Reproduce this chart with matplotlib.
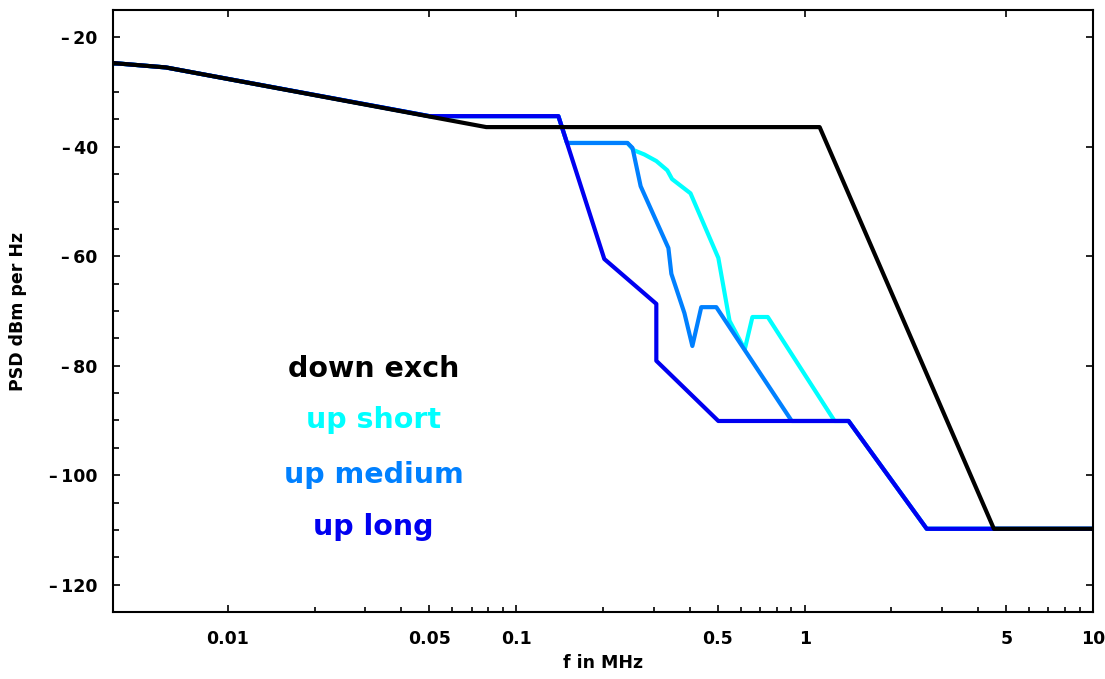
import numpy as np
import matplotlib.pyplot as plt
from matplotlib.ticker import FixedLocator, MultipleLocator, NullFormatter

plt.rcParams['font.family'] = 'DejaVu Sans'
plt.rcParams['font.weight'] = 'bold'
plt.rcParams['axes.unicode_minus'] = False

# frequencies in MHz, PSD in dBm/Hz
f_down = [0.004, 0.0061, 0.0787, 1.127, 4.53, 10]
psd_down = [-24.7, -25.5, -36.4, -36.4, -109.8, -109.8]

f_short = [0.004, 0.0061, 0.05, 0.14, 0.150, 0.243, 0.255, 0.278, 0.306, 0.334,
           0.347, 0.402, 0.502, 0.549, 0.620, 0.659, 0.745, 1.27, 1.42, 2.65, 10]
psd_short = [-24.7, -25.5, -34.4, -34.4, -39.3, -39.3, -40.6, -41.4, -42.6, -44.3,
             -45.9, -48.5, -60.3, -71.8, -77.0, -71.1, -71.1, -90.1, -90.1, -109.8, -109.8]

f_medium = [0.004, 0.0061, 0.05, 0.14, 0.150, 0.243, 0.253, 0.270, 0.337, 0.345,
            0.383, 0.408, 0.438, 0.494, 0.902, 1.42, 2.65, 10]
psd_medium = [-24.7, -25.5, -34.4, -34.4, -39.3, -39.3, -40.2, -47.2, -58.5, -63.2,
              -70.4, -76.4, -69.3, -69.3, -90.1, -90.1, -109.8, -109.8]

f_long = [0.004, 0.0061, 0.05, 0.14, 0.202, 0.306, 0.306, 0.502, 1.42, 2.65, 10]
psd_long = [-24.7, -25.5, -34.4, -34.4, -60.5, -68.7, -79.1, -90.1, -90.1, -109.8, -109.8]

xticks = [0.01, 0.05, 0.1, 0.5, 1, 5, 10]
xticklabels = ['0.01', '0.05', '0.1', '0.5', '1', '5', '10']
yticks = [-20, -40, -60, -80, -100, -120]

names = ['down exch', 'up short', 'up medium', 'up long']
colors = ['#000000', '#00FFFF', '#0080FF', '#0000F0']

fig = plt.figure(figsize=(11.05, 6.79), dpi=100)
ax = fig.add_axes([0.1023, 0.0987, 0.8869, 0.8866])

lw = 3.0
ax.plot(f_short, psd_short, color=colors[1], lw=lw, solid_joinstyle='round')
ax.plot(f_medium, psd_medium, color=colors[2], lw=lw, solid_joinstyle='round')
ax.plot(f_long, psd_long, color=colors[3], lw=lw, solid_joinstyle='round')
ax.plot(f_down, psd_down, color=colors[0], lw=lw, solid_joinstyle='round')

ax.set_xscale('log')
ax.set_xlim(0.004, 10)
ax.set_ylim(-125, -15)

ax.xaxis.set_major_locator(FixedLocator(xticks))
ax.set_xticklabels(xticklabels)
minors = [m * d for d in [0.01, 0.1, 1] for m in [2, 3, 4, 6, 7, 8, 9]]
ax.xaxis.set_minor_locator(FixedLocator(minors))
ax.xaxis.set_minor_formatter(NullFormatter())
ax.set_yticks(yticks)
ax.set_yticklabels(['\u2013\u2009%d' % -v for v in yticks])
ax.yaxis.set_minor_locator(MultipleLocator(5))

ax.tick_params(which='both', direction='in', labelsize=12.5, width=1.2)
ax.tick_params(axis='x', which='major', length=5, pad=13, top=True)
ax.tick_params(axis='x', which='minor', length=3.5)
ax.tick_params(axis='y', which='major', length=5, pad=11, right=True)
ax.tick_params(axis='y', which='minor', length=4)
for s in ax.spines.values():
    s.set_linewidth(1.5)

ax.set_xlabel('f in MHz', fontsize=12.5, fontweight='bold', labelpad=4)
ax.set_ylabel('PSD dBm per Hz', fontsize=12.5, fontweight='bold', labelpad=16)

text_y = [0.390, 0.306, 0.214, 0.128]
for name, c, ty in zip(names, colors, text_y):
    ax.text(0.266, ty, name, color=c, fontsize=20.5, fontweight='bold',
            ha='center', va='baseline', transform=ax.transAxes)

fig.savefig('out.png', dpi=100)
